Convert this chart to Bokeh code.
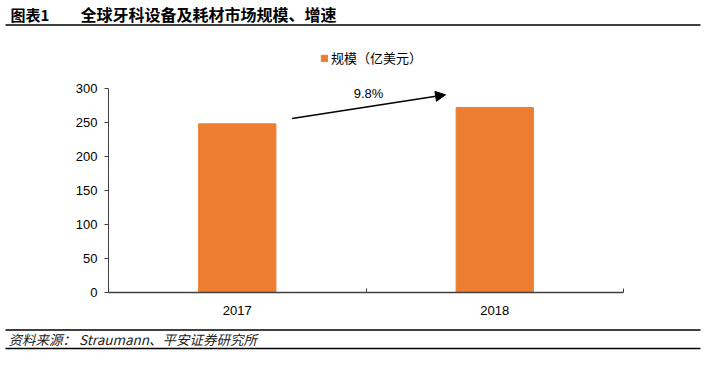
from bokeh.plotting import figure
from bokeh.models import (ColumnDataSource, Range1d, FixedTicker, Legend, LegendItem,
                          Arrow, NormalHead, Label)
from bokeh.layouts import column
from bokeh.embed import file_html
from bokeh.resources import INLINE
from bokeh.core.properties import value

# ---- data ----
years = ["2017", "2018"]
market_size = [248, 272]          # 亿美元
growth_label = "9.8%"
y_ticks = [0, 50, 100, 150, 200, 250, 300]
series_name = "规模（亿美元）"
title_prefix = "图表1"
title_text = "全球牙科设备及耗材市场规模、增速"
source_text = "资料来源：  Straumann、平安证券研究所"

LAT = "Liberation Sans, Noto Sans CJK SC"
CJK = "Noto Sans CJK SC, Liberation Sans"
W = 709
ORANGE = "#ED7D31"
AX = "#404040"


def strip(h):
    f = figure(width=W, height=h, x_range=Range1d(0, W), y_range=Range1d(h, 0),
               output_backend="svg", toolbar_location=None, frame_align=False,
               min_border_left=0, min_border_right=0, min_border_top=0, min_border_bottom=0)
    f.axis.visible = False
    f.grid.visible = False
    f.outline_line_color = None
    return f


# ---- title strip ----
t = strip(40)
t.text(x=[10], y=[13.5], text=[title_prefix], text_font=value(CJK), text_font_style="bold",
       text_font_size="15px", text_baseline="middle", text_color="black")
t.text(x=[80], y=[13.5], text=[title_text], text_font=value(CJK), text_font_style="bold",
       text_font_size="16px", text_baseline="middle", text_color="black")
t.segment(x0=[5], y0=[24.5], x1=[700], y1=[24.5], line_color="black", line_width=1.6)

# ---- main chart ----
ph = 280
y_top = 300 * 252 / 204
xs = [i + 0.5 for i in range(len(years))]
src = ColumnDataSource(dict(x=xs, top=market_size))
p = figure(width=W, height=ph, x_range=Range1d(0, len(years)), y_range=Range1d(0, y_top),
           output_backend="svg", toolbar_location=None, frame_align=False,
           min_border_left=108, min_border_right=86, min_border_top=0, min_border_bottom=28)
p.outline_line_color = None
p.grid.visible = False
r = p.vbar(x="x", top="top", width=0.3, source=src, fill_color=ORANGE, line_color=ORANGE)

p.yaxis.bounds = (0, 300)
p.yaxis.ticker = FixedTicker(ticks=y_ticks)
p.yaxis.axis_line_color = AX
p.yaxis.major_tick_line_color = AX
p.yaxis.major_tick_out = 4
p.yaxis.major_tick_in = 0
p.yaxis.minor_tick_line_color = None
p.yaxis.major_label_text_font = LAT
p.yaxis.major_label_text_font_size = "13px"
p.yaxis.major_label_text_color = "black"
p.yaxis.major_label_standoff = 7

p.xaxis.ticker = FixedTicker(ticks=xs, minor_ticks=list(range(len(years) + 1)))
p.xaxis.major_label_overrides = {x: y for x, y in zip(xs, years)}
p.xaxis.axis_line_color = AX
p.xaxis.axis_line_width = 1.3
p.xaxis.major_tick_line_color = None
p.xaxis.minor_tick_line_color = AX
p.xaxis.minor_tick_in = 4
p.xaxis.minor_tick_out = 0
p.xaxis.major_label_text_font = LAT
p.xaxis.major_label_text_font_size = "13px"
p.xaxis.major_label_text_color = "black"
p.xaxis.major_label_standoff = 7

legend = Legend(items=[LegendItem(label=series_name, renderers=[r])],
                location=(212, 225), orientation="horizontal",
                glyph_width=8, glyph_height=8, label_height=12, label_standoff=3,
                padding=0, margin=0, spacing=0, border_line_color=None,
                background_fill_alpha=0, label_text_font=CJK,
                label_text_font_size="13px", label_text_color="black")
p.add_layout(legend)

arrow_start = (0.713, 256.0)
arrow_end = (1.309, 290.7)
p.add_layout(Arrow(x_start=arrow_start[0], y_start=arrow_start[1],
                   x_end=arrow_end[0], y_end=arrow_end[1],
                   line_color="black", line_width=1.5,
                   end=NormalHead(size=10, fill_color="black", line_color="black")))
p.add_layout(Label(x=1.01, y=292.5, text=growth_label, text_align="center",
                   text_baseline="middle", text_font=LAT, text_font_size="13px",
                   text_color="black"))

# ---- source strip ----
s = strip(47)
s.segment(x0=[5, 5], y0=[9.5, 28], x1=[700, 700], y1=[9.5, 28], line_color="black", line_width=1.5)
s.text(x=[8], y=[18.5], text=[source_text], text_font=value(CJK), text_font_style="italic",
       text_font_size="13.5px", text_baseline="middle", text_color="#222222")

layout = column(t, p, s, spacing=0)
open("out.html", "w").write(file_html(layout, INLINE))
